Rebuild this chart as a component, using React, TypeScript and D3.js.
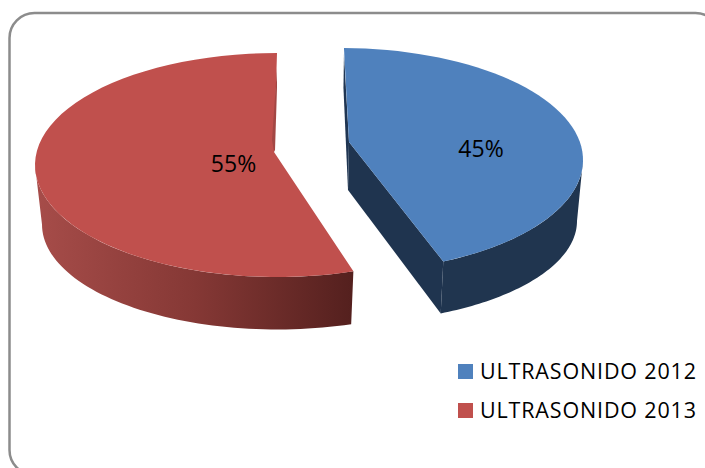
import React from "react";
import * as d3 from "d3";

const categories = ["ULTRASONIDO 2012", "ULTRASONIDO 2013"];
const values = [45, 55];
const labels = ["45%", "55%"];
const topColors = ["#4f81bd", "#c0504d"];

const W = 705, H = 468;
type Ell = { cx: number; cy: number; rx: number; ry: number };
const sliceGeo = [
  { top: { cx: 341, cy: 160, rx: 242, ry: 112 }, bottom: { cx: 341, cy: 221, rx: 236, ry: 102 },
    apex: [349, 142], apexLow: [348, 190], skewStart: 0.7, skewEnd: -7, label: [481, 157] },
  { top: { cx: 277, cy: 165, rx: 242, ry: 112 }, bottom: { cx: 277, cy: 224.5, rx: 235, ry: 105 },
    apex: [274, 152], apexLow: [273, 152], skewStart: -0.4, skewEnd: 0, label: [233.5, 172] },
];

const pt = (e: Ell, a: number): [number, number] => [e.cx + e.rx * Math.sin(a), e.cy - e.ry * Math.cos(a)];
const arcPts = (e: Ell, a0: number, a1: number) =>
  d3.range(0, 61).map((i) => pt(e, a0 + ((a1 - a0) * i) / 60));
const line = d3.line();
const closed = (p: [number, number][]) => line(p) + "Z";

export default function App() {
  const arcs = d3.pie<number>().sort(null).startAngle(0).endAngle(2 * Math.PI)(values);
  const rad = Math.PI / 180;
  const a0 = arcs[0], a1 = arcs[1];
  const blue = sliceGeo[0], red = sliceGeo[1];
  const blueStart = a0.startAngle + blue.skewStart * rad;
  const blueEnd = a0.endAngle + blue.skewEnd * rad;
  const blueCorner = pt(blue.top, blueEnd);
  const blueLow = pt(blue.bottom, blueEnd);
  const blueTopPt = pt(blue.top, blueStart);
  const redStart = a1.startAngle + red.skewStart * rad;
  const redEnd = a1.endAngle;
  const redTopPt = pt(red.top, redEnd);
  const redFrontEnd = 1.5 * Math.PI;
  const ax = blue.apex as [number, number];
  const axLow = blue.apexLow as [number, number];
  const rx = red.apex as [number, number];

  return (
    <svg width={W} height={H} style={{ position: "fixed", left: 0, top: 0 }}>
      <defs>
        <linearGradient id="redSide" gradientUnits="userSpaceOnUse" x1={38} x2={353} y1={0} y2={0}>
          <stop offset="0" stopColor="#a64c49" />
          <stop offset="0.5" stopColor="#853835" />
          <stop offset="1" stopColor="#54201e" />
        </linearGradient>
      </defs>
      <rect width={W} height={H} fill="#fff" />
      <rect x={9.5} y={13} width={711} height={462} rx={25} fill="#fff" stroke="#8c8c8c" strokeWidth={2.5} />

      {/* blue wall and side */}
      <path d={closed([[blueTopPt[0], blueTopPt[1] + 6], [blueTopPt[0] - 0.5, blueTopPt[1] + 40], axLow, ax])} fill="#1f3552" />
      <path d={closed([ax, blueCorner, blueLow, axLow])} fill="#1f344f" />
      <path d={closed([...arcPts(blue.top, blueEnd, Math.PI / 2), ...arcPts(blue.bottom, Math.PI / 2, blueEnd)])} fill="#20354f" />
      <path d={closed([ax, ...arcPts(blue.top, blueStart, blueEnd)])} fill={topColors[0]} />

      {/* red side and wall */}
      <path d={closed([...arcPts(red.top, redStart, redFrontEnd), ...arcPts(red.bottom, redFrontEnd, redStart)])} fill="url(#redSide)" />
      <path d={closed([rx, ...arcPts(red.top, redStart, redEnd)])} fill={topColors[1]} />
      <path d={closed([[redTopPt[0], redTopPt[1] + 15], [redTopPt[0], redTopPt[1] + 35], [rx[0] + 1, rx[1] - 2], rx, [rx[0] - 2, rx[1] - 12]])} fill="#a34744" />

      {arcs.map((_, i) => (
        <text key={i} x={sliceGeo[i].label[0]} y={sliceGeo[i].label[1]} textAnchor="middle"
          fontFamily="'Open Sans', sans-serif" fontSize={23} fill="#000">{labels[i]}</text>
      ))}

      {categories.map((c, i) => (
        <g key={c}>
          <rect x={458} y={364 + i * 39} width={15} height={15} fill={topColors[i]} />
          <text x={480} y={379 + i * 39} fontFamily="'Open Sans', sans-serif" fontSize={21.5}
            textLength={216} lengthAdjust="spacing" fill="#000">{c}</text>
        </g>
      ))}
    </svg>
  );
}
